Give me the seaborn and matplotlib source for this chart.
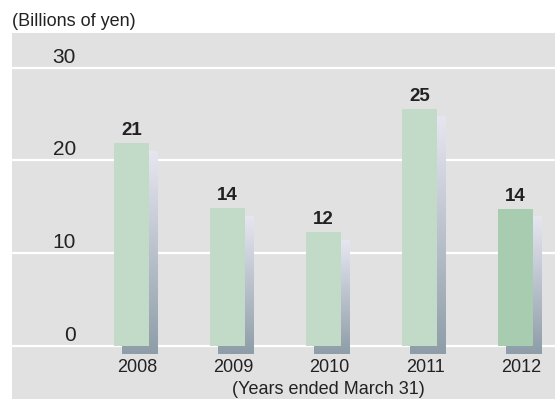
import numpy as np
import pandas as pd
import matplotlib
matplotlib.use("Agg")
import matplotlib.pyplot as plt
import matplotlib.transforms as mtransforms
from matplotlib.colors import LinearSegmentedColormap
import seaborn as sns

years = ["2008", "2009", "2010", "2011", "2012"]
values = [21.9, 14.9, 12.3, 25.6, 14.8]
value_labels = ["21", "14", "12", "25", "14"]
bar_colors = ["#c2dac8", "#c2dac8", "#c2dac8", "#c2dac8", "#a8ccb0"]
y_ticks = [0, 10, 20, 30]
unit_label = "(Billions of yen)"
x_title = "(Years ended March 31)"

sns.set_theme(style="white")
plt.rcParams["font.family"] = ["Liberation Sans", "DejaVu Sans"]

W, H, DPI = 555, 399, 100
fig = plt.figure(figsize=(W / DPI, H / DPI), dpi=DPI, facecolor="white")
ax = fig.add_axes([12 / W, 0, 543 / W, 366 / H])
ax.set_facecolor("#e1e1e1")
for s in ax.spines.values():
    s.set_visible(False)

df = pd.DataFrame({"year": years, "value": values})
bw = 0.365
sns.barplot(data=df, x="year", y="value", hue="year", palette=bar_colors,
            width=bw, legend=False, ax=ax, zorder=3, saturation=1, linewidth=0)

ylim = (-5.76, 33.77)
xlim = (-1.245, 4.411)
ax.set_xlim(*xlim)
ax.set_ylim(*ylim)

# shadow offsets in data units (approx 8 px right, 8 px down)
px_x = (xlim[1] - xlim[0]) / 543
px_y = (ylim[1] - ylim[0]) / 366
dx, dy = 7.5 * px_x, 8 * px_y
cmap = LinearSegmentedColormap.from_list("sh", ["#e6e6f0", "#8e9da8"])
grad = np.linspace(0, 1, 256).reshape(-1, 1)
for i, v in enumerate(values):
    ax.imshow(grad, cmap=cmap, aspect="auto", zorder=2,
              extent=[i - bw / 2 + dx, i + bw / 2 + dx, -dy, v - dy],
              origin="upper", interpolation="bilinear")
ax.set_xlim(*xlim)
ax.set_ylim(*ylim)

for t in y_ticks:
    ax.axhline(t, color="white", lw=1.6, zorder=1)

ax.set_xticks([])
ax.set_yticks([])
ax.set_xlabel("")
ax.set_ylabel("")

blend = mtransforms.blended_transform_factory(ax.transAxes, ax.transData)
for t in y_ticks:
    tr = mtransforms.offset_copy(blend, fig=fig, x=0, y=1, units="dots")
    ax.text((76 - 12) / 543, t, str(t), transform=tr, ha="right", va="bottom",
            fontsize=15, color="#222222")

for i, (v, lab) in enumerate(zip(values, value_labels)):
    tr = mtransforms.offset_copy(ax.transData, fig=fig, x=0, y=4, units="dots")
    ax.text(i, v, lab, transform=tr, ha="center", va="bottom",
            fontsize=13.5, fontweight="bold", color="#222222")
    tr2 = mtransforms.offset_copy(ax.transData, fig=fig, x=6, y=-21.5, units="dots")
    ax.text(i, 0, years[i], transform=tr2, ha="center", va="center",
            fontsize=13, color="#222222")

fig.text(328 / W, 1 - 389 / H, x_title, ha="center", va="center",
         fontsize=13, color="#222222")
fig.text(12 / W, 1 - 21 / H, unit_label, ha="left", va="center",
         fontsize=13, color="#222222")

fig.savefig("out.png", dpi=DPI, facecolor="white")
